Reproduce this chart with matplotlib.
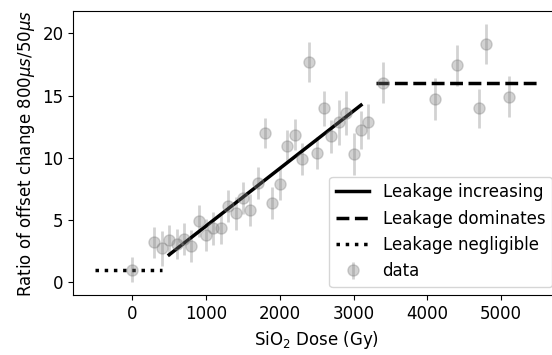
import numpy as np
import matplotlib
matplotlib.use("Agg")
import matplotlib.pyplot as plt

plt.rcParams["font.size"] = 12

# measured points
dose = [0, 300, 400, 500, 600, 700, 800, 900, 1000, 1100, 1200, 1300, 1400,
        1500, 1600, 1700, 1800, 1900, 2000, 2100, 2200, 2300, 2400, 2500,
        2600, 2700, 2800, 2900, 3000, 3100, 3200, 3400, 4100, 4400, 4700,
        4800, 5100]
ratio = [1.02, 3.21, 2.75, 3.37, 3.10, 3.48, 2.94, 4.95, 3.80, 4.33, 4.33,
         6.15, 5.56, 6.79, 5.83, 7.97, 12.03, 6.39, 7.89, 10.99, 11.87, 9.89,
         17.73, 10.38, 14.0, 11.72, 12.87, 13.6, 10.30, 12.25, 12.92, 16.05,
         14.72, 17.45, 13.97, 19.13, 14.93]
ratio_err = [0.98, 1.27, 1.4, 1.27, 1.2, 1.27, 1.27, 1.27, 1.26, 1.3, 1.23,
             1.27, 1.33, 1.3, 1.3, 1.3, 1.2, 1.3, 1.3, 1.27, 1.27, 1.3,
             1.6, 1.27, 1.4, 1.33, 1.8, 1.74, 1.67, 1.54, 1.38, 1.67,
             1.67, 1.65, 1.6, 1.62, 1.63]

# fitted regions
inc_x = [500, 3100]
inc_y = [2.22, 14.24]
dom_x = [3300, 5500]
dom_y = [16.0, 16.0]
neg_x = [-500, 400]
neg_y = [1.0, 1.0]

fig = plt.figure(figsize=(5.52, 3.55), dpi=100)
ax = fig.add_axes([0.1328, 0.1682, 0.882, 0.8008])

ax.errorbar(dose, ratio, yerr=ratio_err, fmt="o", color="grey", alpha=0.35,
            ms=8, elinewidth=2, label="data")
ax.plot(inc_x, inc_y, "k-", lw=2.5, label="Leakage increasing")
ax.plot(dom_x, dom_y, "k--", lw=2.5, label="Leakage dominates")
ax.plot(neg_x, neg_y, "k:", lw=2.5, label="Leakage negligible")

ax.set_xlim(-800, 5800)
ax.set_ylim(-1.04, 21.8)
ax.set_xticks([0, 1000, 2000, 3000, 4000, 5000])
ax.set_yticks([0, 5, 10, 15, 20])

ax.set_xlabel(r"SiO$_2$ Dose (Gy)")
ax.set_ylabel(r"Ratio of offset change 800$\mu s$/50$\mu s$")
ax.legend(loc="lower right")

fig.savefig("out.png", dpi=100)
